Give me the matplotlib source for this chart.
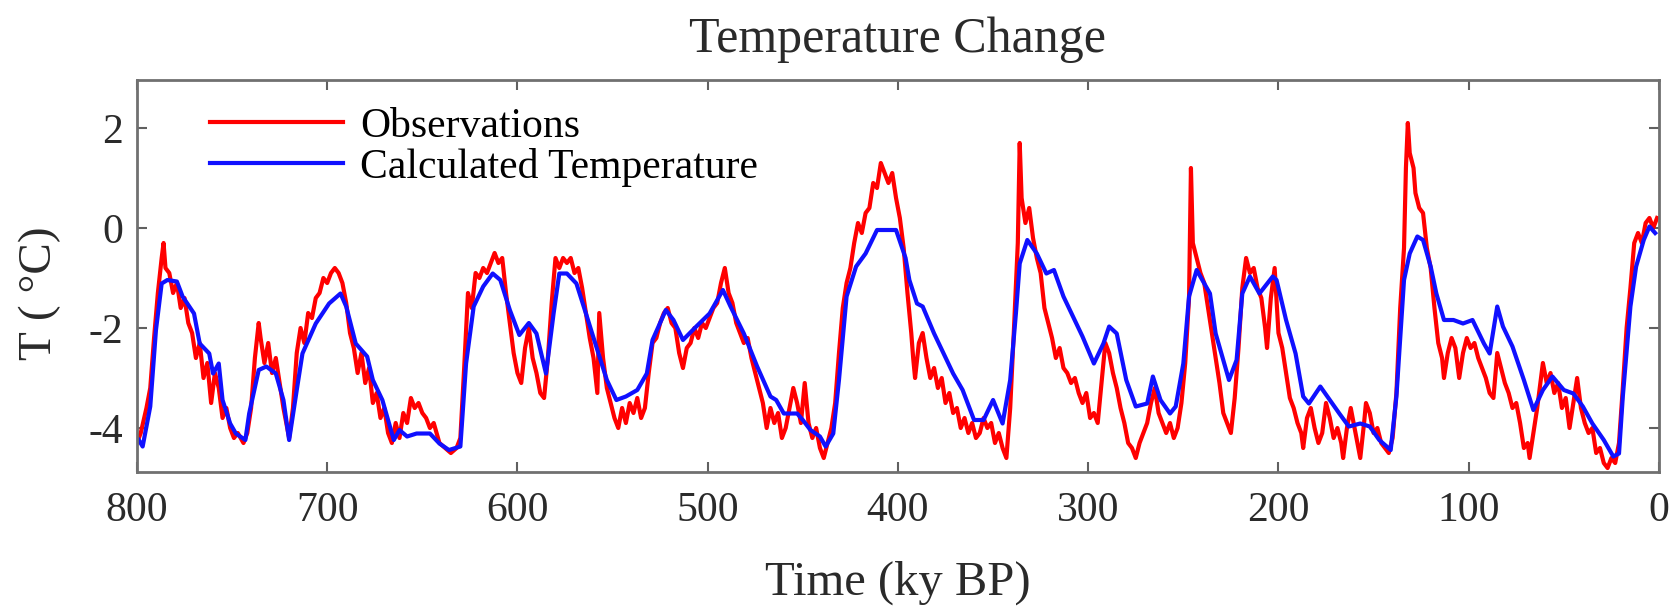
import matplotlib
matplotlib.use("Agg")
import matplotlib.pyplot as plt

# Temperaturrekonstruktion der letzten 800 ky (Eisbohrkern) und Modellrechnung
obs_age = [800, 798, 795, 793, 791, 789, 787, 786, 785, 783, 781, 779, 777, 775, 773, 771,
           769, 767, 765, 763, 761, 759, 757, 755, 753, 751, 749, 747, 744, 742, 740, 738,
           736, 735, 733, 731, 729, 727, 725, 723, 721, 720, 718, 716, 714, 712, 710, 708,
           706, 704, 702, 700, 698, 696, 694, 692, 690, 688, 686, 684, 682, 680, 678, 676,
           674, 672, 670, 668, 666, 664, 662, 660, 658, 656, 654, 652, 650, 648, 646, 644,
           641, 638, 635, 632, 630, 628, 626, 624, 622, 620, 618, 616, 614, 612, 610, 608,
           606, 604, 602, 600, 598, 596, 594, 592, 590, 588, 586, 584, 582, 580, 578, 576,
           574, 572, 570, 568, 566, 564, 562, 560, 558, 557, 555, 553, 551, 549, 547, 545,
           543, 541, 539, 537, 535, 533, 531, 529, 527, 525, 523, 521, 519, 517, 515, 513,
           511, 509, 507, 505, 503, 501, 499, 497, 495, 493, 491, 489, 487, 485, 483, 481,
           479, 477, 475, 473, 471, 469, 467, 465, 463, 461, 459, 457, 455, 453, 451, 449,
           447, 445, 443, 441, 439, 437, 435, 433, 431, 429, 427, 425, 423, 421, 419, 417,
           415, 413, 411, 409, 407, 405, 403, 401, 399, 397, 395, 393, 392, 391, 389, 387,
           385, 383, 381, 379, 377, 375, 373, 371, 369, 367, 365, 363, 361, 359, 357, 355,
           353, 351, 349, 347, 345, 343, 341, 339, 337, 336, 335, 333, 331, 329, 327, 325,
           323, 321, 319, 317, 315, 313, 311, 309, 307, 305, 303, 301, 299, 297, 295, 293,
           291, 289, 287, 285, 283, 281, 279, 277, 275, 273, 271, 269, 267, 265, 263, 261,
           259, 257, 255, 253, 251, 249, 247, 246, 245, 243, 241, 239, 237, 235, 233, 231,
           229, 227, 225, 223, 221, 219, 217, 215, 213, 211, 209, 207, 206, 204, 202, 200,
           198, 196, 194, 192, 190, 188, 187, 185, 183, 181, 179, 177, 175, 173, 171, 169,
           167, 166, 164, 162, 160, 158, 157, 155, 154, 152, 150, 148, 146, 144, 142, 140,
           138, 136, 134, 133, 132, 131, 129, 128, 126, 124, 122, 120, 118, 116, 114, 113,
           111, 109, 107, 105, 103, 101, 99, 97, 95, 93, 91, 89, 87, 85, 83, 81,
           79, 77, 75, 73, 71, 69, 68, 66, 64, 62, 61, 59, 57, 55, 53, 51,
           49, 47, 45, 43, 41, 39, 37, 35, 33, 31, 29, 27, 25, 23, 21, 19,
           17, 15, 13, 11, 9, 7, 5, 3, 1]
obs_temp = [-4.3, -4.1, -3.6, -3.2, -2.2, -1.3, -0.6, -0.3, -0.8, -0.9, -1.3, -1.1, -1.6, -1.4, -1.9, -2.1,
            -2.6, -2.3, -3.0, -2.7, -3.5, -2.9, -3.2, -3.8, -3.6, -4.0, -4.2, -4.1, -4.3, -4.1, -3.6, -2.6,
            -1.9, -2.2, -2.7, -2.3, -2.9, -2.6, -3.1, -3.6, -4.0, -4.2, -3.6, -2.5, -2.0, -2.3, -1.7, -1.8,
            -1.4, -1.3, -1.0, -1.1, -0.9, -0.8, -0.9, -1.1, -1.5, -2.1, -2.4, -2.9, -2.5, -3.1, -2.8, -3.5,
            -3.3, -3.8, -3.6, -4.1, -4.3, -3.9, -4.2, -3.7, -3.9, -3.4, -3.6, -3.5, -3.7, -3.8, -4.0, -3.9,
            -4.3, -4.4, -4.5, -4.4, -4.2, -2.8, -1.3, -1.6, -0.9, -1.0, -0.8, -0.9, -0.7, -0.5, -0.7, -0.6,
            -1.3, -1.9, -2.5, -2.9, -3.1, -2.4, -2.0, -2.6, -2.9, -3.3, -3.4, -2.6, -1.5, -0.6, -0.8, -0.6,
            -0.7, -0.6, -0.9, -0.8, -1.2, -1.7, -2.2, -2.6, -3.3, -1.7, -2.6, -3.2, -3.5, -3.8, -4.0, -3.6,
            -3.9, -3.5, -3.7, -3.4, -3.8, -3.6, -2.9, -2.3, -2.2, -1.9, -1.7, -1.6, -1.9, -2.0, -2.5, -2.8,
            -2.4, -2.3, -2.0, -2.2, -1.9, -2.0, -1.8, -1.6, -1.5, -1.1, -0.8, -1.3, -1.5, -1.9, -2.1, -2.3,
            -2.2, -2.6, -2.9, -3.2, -3.5, -4.0, -3.6, -3.9, -3.7, -4.2, -4.0, -3.6, -3.2, -3.5, -3.9, -3.1,
            -3.9, -4.2, -4.0, -4.4, -4.6, -4.3, -4.0, -3.5, -2.5, -1.6, -1.1, -0.8, -0.3, 0.1, -0.1, 0.3,
            0.4, 0.9, 0.8, 1.3, 1.1, 0.9, 1.1, 0.6, 0.2, -0.4, -1.3, -2.1, -2.6, -3.0, -2.3, -2.1,
            -2.6, -3.0, -2.8, -3.2, -3.0, -3.5, -3.3, -3.7, -3.6, -4.0, -3.8, -4.1, -3.9, -4.2, -4.1, -3.8,
            -4.0, -3.9, -4.3, -4.1, -4.4, -4.6, -3.6, -2.0, -0.3, 1.7, 0.6, 0.1, 0.4, -0.2, -0.6, -0.9,
            -1.6, -1.9, -2.2, -2.6, -2.4, -2.8, -2.9, -3.1, -3.0, -3.3, -3.5, -3.3, -3.8, -3.7, -3.9, -3.1,
            -2.3, -2.5, -2.9, -3.2, -3.6, -3.9, -4.3, -4.4, -4.6, -4.3, -4.1, -3.9, -3.5, -3.2, -3.7, -3.9,
            -4.1, -3.9, -4.2, -4.0, -3.5, -2.7, -1.4, 1.2, -0.3, -0.6, -0.9, -1.1, -1.6, -2.1, -2.6, -3.1,
            -3.7, -3.9, -4.1, -3.4, -2.4, -1.2, -0.6, -0.9, -0.8, -1.2, -1.4, -2.0, -2.4, -1.4, -0.8, -2.1,
            -2.4, -2.9, -3.4, -3.6, -3.9, -4.1, -4.4, -3.8, -3.6, -4.0, -4.3, -4.1, -3.5, -3.8, -4.2, -4.0,
            -4.3, -4.6, -4.0, -3.6, -4.0, -4.4, -4.6, -3.9, -3.5, -3.7, -4.1, -4.0, -4.3, -4.4, -4.5, -4.2,
            -3.3, -1.6, -0.4, 1.2, 2.1, 1.5, 1.2, 0.7, 0.4, 0.3, -0.4, -0.8, -1.6, -2.3, -2.6, -3.0,
            -2.5, -2.2, -2.4, -3.0, -2.5, -2.2, -2.4, -2.3, -2.6, -2.8, -3.0, -3.3, -3.4, -2.5, -2.8, -3.1,
            -3.3, -3.6, -3.5, -3.9, -4.4, -4.3, -4.6, -4.1, -3.6, -3.0, -2.7, -3.1, -2.9, -3.3, -3.1, -3.6,
            -3.4, -4.0, -3.5, -3.0, -3.6, -3.9, -4.1, -4.0, -4.5, -4.4, -4.7, -4.8, -4.6, -4.7, -4.3, -3.2,
            -2.0, -1.2, -0.3, -0.1, -0.3, 0.1, 0.2, 0.0, 0.2]

calc_age = [799, 797, 793, 790, 787, 784, 779, 776, 770, 767, 762, 760, 757, 755, 751, 748,
            743, 741, 736, 732, 727, 723, 720, 716, 713, 706, 699, 693, 690, 685, 679, 676,
            671, 665, 662, 658, 653, 646, 641, 636, 630, 627, 623, 618, 613, 609, 604, 599,
            594, 590, 585, 581, 578, 574, 569, 564, 558, 553, 548, 543, 537, 532, 529, 522,
            518, 513, 506, 499, 492, 488, 481, 474, 467, 464, 460, 453, 450, 446, 441, 438,
            434, 431, 427, 422, 417, 411, 406, 401, 396, 394, 390, 387, 381, 376, 371, 366,
            360, 355, 350, 345, 341, 338, 336, 332, 327, 322, 318, 313, 308, 303, 297, 292,
            289, 285, 280, 275, 269, 266, 262, 257, 254, 250, 247, 243, 240, 236, 233, 229,
            226, 222, 219, 215, 210, 203, 201, 196, 191, 187, 184, 178, 173, 168, 163, 157,
            152, 147, 141, 138, 134, 131, 127, 124, 120, 117, 113, 108, 103, 98, 92, 89,
            85, 82, 77, 71, 66, 61, 56, 50, 45, 40, 35, 29, 24, 21, 19, 15,
            12, 8, 5, 2]
calc_temp = [-4.24, -4.37, -3.57, -2.04, -1.11, -1.04, -1.07, -1.37, -1.71, -2.31, -2.51, -2.91, -2.71, -3.44, -3.91, -4.11,
             -4.24, -3.71, -2.84, -2.77, -2.91, -3.44, -4.24, -3.24, -2.51, -1.91, -1.51, -1.31, -1.57, -2.31, -2.57, -3.04,
             -3.44, -4.24, -4.04, -4.17, -4.11, -4.11, -4.31, -4.44, -4.37, -2.71, -1.57, -1.17, -0.91, -1.04, -1.64, -2.14,
             -1.90, -2.11, -2.91, -1.71, -0.91, -0.91, -1.11, -1.71, -2.44, -3.04, -3.44, -3.37, -3.24, -2.91, -2.24, -1.64,
             -1.84, -2.24, -1.97, -1.71, -1.24, -1.57, -2.11, -2.77, -3.37, -3.44, -3.71, -3.71, -3.84, -4.04, -4.17, -4.37,
             -4.11, -3.04, -1.37, -0.77, -0.51, -0.04, -0.04, -0.04, -0.60, -1.04, -1.51, -1.57, -2.11, -2.51, -2.91, -3.24,
             -3.84, -3.84, -3.44, -3.91, -3.04, -1.71, -0.71, -0.24, -0.51, -0.91, -0.84, -1.37, -1.77, -2.17, -2.71, -2.31,
             -1.97, -2.11, -3.04, -3.57, -3.51, -2.97, -3.44, -3.71, -3.57, -2.71, -1.37, -0.84, -1.04, -1.31, -2.11, -2.64,
             -3.04, -2.64, -1.31, -0.97, -1.31, -0.97, -1.04, -1.84, -2.51, -3.37, -3.51, -3.17, -3.44, -3.71, -3.97, -3.91,
             -3.97, -4.24, -4.44, -3.37, -1.04, -0.51, -0.17, -0.24, -0.77, -1.31, -1.84, -1.84, -1.91, -1.84, -2.31, -2.51,
             -1.57, -1.97, -2.37, -3.04, -3.64, -3.24, -2.97, -3.24, -3.31, -3.57, -3.91, -4.24, -4.57, -4.51, -3.37, -1.57,
             -0.77, -0.24, 0.03, -0.10]

x_ticks = [800, 700, 600, 500, 400, 300, 200, 100, 0]
y_ticks = [2, 0, -2, -4]

plt.rcParams["font.family"] = ["Liberation Serif", "DejaVu Serif"]
plt.rcParams["axes.unicode_minus"] = False

fig = plt.figure(figsize=(16.72, 6.13), dpi=100)
ax = fig.add_axes([0.0819, 0.2300, 0.9103, 0.6395])

ax.plot(obs_age, obs_temp, color="#ff0000", lw=3, label="Observations")
ax.plot(calc_age, calc_temp, color="#1010ff", lw=3, label="Calculated Temperature")

ax.set_xlim(800, 0)
ax.set_ylim(-4.88, 2.96)
ax.set_xticks(x_ticks)
ax.set_yticks(y_ticks)

ax.tick_params(direction="in", top=True, right=True, length=7, width=1.5,
               color="#606060", labelsize=30, labelcolor="#2a2a2a")
ax.tick_params(axis="x", pad=14)
ax.tick_params(axis="y", pad=10)
for sp in ax.spines.values():
    sp.set_color("#707070")
    sp.set_linewidth(2)

ax.set_title("Temperature Change", fontsize=36, color="#2a2a2a", pad=20)
ax.set_xlabel("Time (ky BP)", fontsize=35, color="#2a2a2a", labelpad=22)
ax.set_ylabel("T ( °C)", fontsize=34, color="#2a2a2a")
ax.yaxis.set_label_coords(-0.05, 0.457)

ax.legend(loc="upper left", bbox_to_anchor=(0.048, 0.931), frameon=False,
          fontsize=30, handlelength=3.2, handletextpad=0.4, labelspacing=0.05,
          borderpad=0, borderaxespad=0)

fig.savefig("out.png", dpi=100, facecolor="white")
